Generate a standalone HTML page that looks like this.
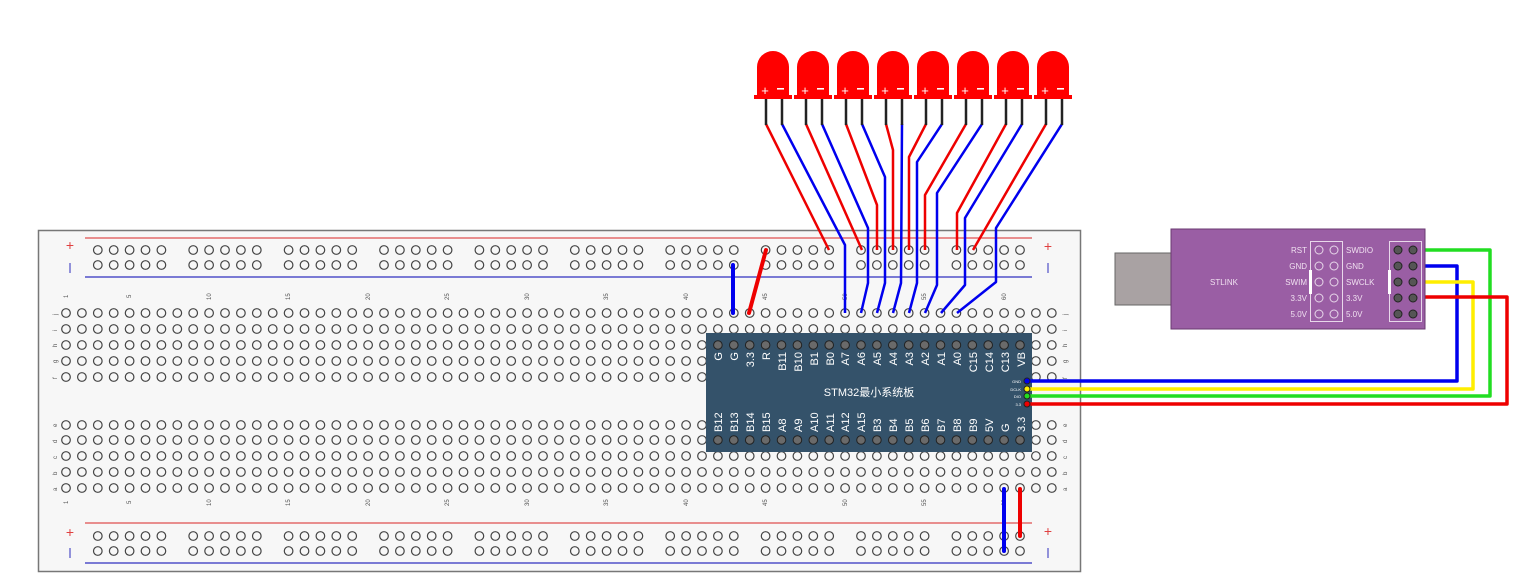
<!DOCTYPE html>
<html><head><meta charset="utf-8"><style>
html,body{margin:0;padding:0;background:#fff;width:1537px;height:588px;overflow:hidden}
svg{display:block;font-family:"Liberation Sans","Noto Sans CJK SC",sans-serif}
</style></head><body>
<svg id="s" width="1537" height="588" viewBox="0 0 1537 588" xmlns="http://www.w3.org/2000/svg">
<rect x="38.5" y="230.5" width="1042" height="341" fill="#f7f7f7" stroke="#777" stroke-width="1.5"/>
<line x1="85" y1="238" x2="1032" y2="238" stroke="#e05050" stroke-width="1.2"/>
<line x1="85" y1="277" x2="1032" y2="277" stroke="#3030c0" stroke-width="1.2"/>
<line x1="85" y1="523" x2="1032" y2="523" stroke="#e05050" stroke-width="1.2"/>
<line x1="85" y1="563" x2="1032" y2="563" stroke="#3030c0" stroke-width="1.2"/>
<g font-size="14" fill="#e04040" text-anchor="middle"><text x="70" y="250">+</text><text x="1048" y="251">+</text><text x="70" y="537">+</text><text x="1048" y="536">+</text></g>
<g stroke="#7070d0" stroke-width="1.5"><line x1="70" y1="263" x2="70" y2="273"/><line x1="1048" y1="263" x2="1048" y2="273"/><line x1="70" y1="548" x2="70" y2="558"/><line x1="1048" y1="548" x2="1048" y2="558"/></g>
<g id="holes" fill="none" stroke="#444" stroke-width="1.2"></g>
<g font-size="6" fill="#555" id="labels">
<text transform="translate(68,298) rotate(-90)">1</text>
<text transform="translate(131,298) rotate(-90)">5</text>
<text transform="translate(211,300) rotate(-90)">10</text>
<text transform="translate(290,300) rotate(-90)">15</text>
<text transform="translate(370,300) rotate(-90)">20</text>
<text transform="translate(449,300) rotate(-90)">25</text>
<text transform="translate(529,300) rotate(-90)">30</text>
<text transform="translate(608,300) rotate(-90)">35</text>
<text transform="translate(688,300) rotate(-90)">40</text>
<text transform="translate(767,300) rotate(-90)">45</text>
<text transform="translate(847,300) rotate(-90)">50</text>
<text transform="translate(926,300) rotate(-90)">55</text>
<text transform="translate(1006,300) rotate(-90)">60</text>
<text transform="translate(68,504) rotate(-90)">1</text>
<text transform="translate(131,504) rotate(-90)">5</text>
<text transform="translate(211,506) rotate(-90)">10</text>
<text transform="translate(290,506) rotate(-90)">15</text>
<text transform="translate(370,506) rotate(-90)">20</text>
<text transform="translate(449,506) rotate(-90)">25</text>
<text transform="translate(529,506) rotate(-90)">30</text>
<text transform="translate(608,506) rotate(-90)">35</text>
<text transform="translate(688,506) rotate(-90)">40</text>
<text transform="translate(767,506) rotate(-90)">45</text>
<text transform="translate(847,506) rotate(-90)">50</text>
<text transform="translate(926,506) rotate(-90)">55</text>
<text transform="translate(1006,506) rotate(-90)">60</text>
<text transform="translate(57,315) rotate(-90)">j</text><text transform="translate(57,331) rotate(-90)">i</text><text transform="translate(57,347) rotate(-90)">h</text><text transform="translate(57,363) rotate(-90)">g</text><text transform="translate(57,379) rotate(-90)">f</text>
<text transform="translate(57,427) rotate(-90)">e</text><text transform="translate(57,443) rotate(-90)">d</text><text transform="translate(57,459) rotate(-90)">c</text><text transform="translate(57,475) rotate(-90)">b</text><text transform="translate(57,491) rotate(-90)">a</text>
<text transform="translate(1067,315) rotate(-90)">j</text><text transform="translate(1067,331) rotate(-90)">i</text><text transform="translate(1067,347) rotate(-90)">h</text><text transform="translate(1067,363) rotate(-90)">g</text><text transform="translate(1067,379) rotate(-90)">f</text>
<text transform="translate(1067,427) rotate(-90)">e</text><text transform="translate(1067,443) rotate(-90)">d</text><text transform="translate(1067,459) rotate(-90)">c</text><text transform="translate(1067,475) rotate(-90)">b</text><text transform="translate(1067,491) rotate(-90)">a</text>
</g>
<!-- STM32 -->
<rect x="706" y="333" width="326" height="119" fill="#34526a"/>
<g id="pins" fill="#6a6a6a" stroke="#222" stroke-width="1"></g>
<g fill="#fff" font-size="11">
<g text-anchor="end">
<text transform="translate(722,352) rotate(-90)">G</text><text transform="translate(738,352) rotate(-90)">G</text><text transform="translate(754,352) rotate(-90)">3.3</text><text transform="translate(770,352) rotate(-90)">R</text><text transform="translate(786,352) rotate(-90)">B11</text><text transform="translate(802,352) rotate(-90)">B10</text><text transform="translate(818,352) rotate(-90)">B1</text><text transform="translate(834,352) rotate(-90)">B0</text><text transform="translate(849,352) rotate(-90)">A7</text><text transform="translate(865,352) rotate(-90)">A6</text><text transform="translate(881,352) rotate(-90)">A5</text><text transform="translate(897,352) rotate(-90)">A4</text><text transform="translate(913,352) rotate(-90)">A3</text><text transform="translate(929,352) rotate(-90)">A2</text><text transform="translate(945,352) rotate(-90)">A1</text><text transform="translate(961,352) rotate(-90)">A0</text><text transform="translate(977,352) rotate(-90)">C15</text><text transform="translate(993,352) rotate(-90)">C14</text><text transform="translate(1009,352) rotate(-90)">C13</text><text transform="translate(1025,352) rotate(-90)">VB</text>
</g>
<g text-anchor="start">
<text transform="translate(722,432) rotate(-90)">B12</text><text transform="translate(738,432) rotate(-90)">B13</text><text transform="translate(754,432) rotate(-90)">B14</text><text transform="translate(770,432) rotate(-90)">B15</text><text transform="translate(786,432) rotate(-90)">A8</text><text transform="translate(802,432) rotate(-90)">A9</text><text transform="translate(818,432) rotate(-90)">A10</text><text transform="translate(834,432) rotate(-90)">A11</text><text transform="translate(849,432) rotate(-90)">A12</text><text transform="translate(865,432) rotate(-90)">A15</text><text transform="translate(881,432) rotate(-90)">B3</text><text transform="translate(897,432) rotate(-90)">B4</text><text transform="translate(913,432) rotate(-90)">B5</text><text transform="translate(929,432) rotate(-90)">B6</text><text transform="translate(945,432) rotate(-90)">B7</text><text transform="translate(961,432) rotate(-90)">B8</text><text transform="translate(977,432) rotate(-90)">B9</text><text transform="translate(993,432) rotate(-90)">5V</text><text transform="translate(1009,432) rotate(-90)">G</text><text transform="translate(1025,432) rotate(-90)">3.3</text>
</g>
<text x="869" y="396" text-anchor="middle" font-size="11">STM32最小系统板</text>
<g font-size="4" text-anchor="end"><text x="1021" y="383">GND</text><text x="1021" y="391">DCLK</text><text x="1021" y="398">DIO</text><text x="1021" y="406">3.3</text></g>
</g>
<!-- SWD wires -->
<g fill="none" stroke-width="3.5" stroke-linejoin="round">
<polyline points="1027,381 1457,381 1457,266 1413,266" stroke="#0000ee"/>
<polyline points="1027,389 1473,389 1473,282 1413,282" stroke="#ffee00"/>
<polyline points="1027,396 1490,396 1490,250 1413,250" stroke="#22dd22"/>
<polyline points="1027,404 1507,404 1507,297 1413,297" stroke="#ee0000"/>
</g>
<g stroke="#222" stroke-width="1"><circle cx="1027" cy="381" r="3" fill="#0000ee"/><circle cx="1027" cy="389" r="3" fill="#ffee00"/><circle cx="1027" cy="396" r="3" fill="#22dd22"/><circle cx="1027" cy="404" r="3" fill="#ee0000"/></g>
<!-- STLINK -->
<rect x="1115" y="253" width="56" height="52" fill="#a9a2a3" stroke="#666"/>
<rect x="1171" y="229" width="254" height="100" fill="#9a5ea4" stroke="#6a3a70"/>
<text x="1224" y="285" fill="#f0e0f0" font-size="8" text-anchor="middle">STLINK</text>
<rect x="1310.5" y="241.5" width="32" height="80" fill="none" stroke="#e8d8ea"/>
<rect x="1389.5" y="241.5" width="32" height="80" fill="none" stroke="#e8d8ea"/>
<rect x="1309" y="270" width="3" height="24" fill="#fff"/>
<rect x="1388" y="270" width="3" height="24" fill="#fff"/>
<g fill="#f0e0f0" font-size="8"><g text-anchor="end"><text x="1307" y="253">RST</text><text x="1307" y="269">GND</text><text x="1307" y="285">SWIM</text><text x="1307" y="301">3.3V</text><text x="1307" y="317">5.0V</text></g>
<text x="1346" y="253">SWDIO</text><text x="1346" y="269">GND</text><text x="1346" y="285">SWCLK</text><text x="1346" y="301">3.3V</text><text x="1346" y="317">5.0V</text></g>
<g fill="none" stroke="#e8d8ea" stroke-width="1"><circle cx="1319" cy="250" r="4"/><circle cx="1334" cy="250" r="4"/><circle cx="1319" cy="266" r="4"/><circle cx="1334" cy="266" r="4"/><circle cx="1319" cy="282" r="4"/><circle cx="1334" cy="282" r="4"/><circle cx="1319" cy="298" r="4"/><circle cx="1334" cy="298" r="4"/><circle cx="1319" cy="314" r="4"/><circle cx="1334" cy="314" r="4"/></g>
<g fill="#555" stroke="#222"><circle cx="1398" cy="250" r="4"/><circle cx="1413" cy="250" r="4"/><circle cx="1398" cy="266" r="4"/><circle cx="1413" cy="266" r="4"/><circle cx="1398" cy="282" r="4"/><circle cx="1413" cy="282" r="4"/><circle cx="1398" cy="298" r="4"/><circle cx="1413" cy="298" r="4"/><circle cx="1398" cy="314" r="4"/><circle cx="1413" cy="314" r="4"/></g>
<!-- LED wires -->
<g fill="none" stroke-width="2.5" stroke-linejoin="round">
<polyline stroke="#ee0000" points="766,124 829,250"/>
<polyline stroke="#0000ee" points="782,124 845,245 845,313"/>
<polyline stroke="#ee0000" points="806,124 862,250"/>
<polyline stroke="#0000ee" points="822,124 868,228 868,283 861,313"/>
<polyline stroke="#ee0000" points="846,124 877,205 877,250"/>
<polyline stroke="#0000ee" points="862,124 885,177 885,283 877,313"/>
<polyline stroke="#ee0000" points="886,124 893,150 893,250"/>
<polyline stroke="#0000ee" points="902,124 901,283 893,313"/>
<polyline stroke="#ee0000" points="926,124 909,157 909,250"/>
<polyline stroke="#0000ee" points="942,124 917,162 917,283 909,313"/>
<polyline stroke="#ee0000" points="966,124 925,195 925,250"/>
<polyline stroke="#0000ee" points="982,124 937,193 937,285 925,313"/>
<polyline stroke="#ee0000" points="1006,124 957,213 957,250"/>
<polyline stroke="#0000ee" points="1022,124 965,218 965,285 941,313"/>
<polyline stroke="#ee0000" points="1046,124 973,250"/>
<polyline stroke="#0000ee" points="1062,124 996,228 996,282 957,313"/>
</g>
<!-- jumpers -->
<g stroke-width="4" stroke-linecap="round">
<line x1="733" y1="265" x2="733" y2="313" stroke="#0000ee"/>
<line x1="766" y1="250" x2="749" y2="313" stroke="#ee0000"/>
<line x1="1004" y1="489" x2="1004" y2="551" stroke="#0000ee"/>
<line x1="1020" y1="489" x2="1020" y2="536" stroke="#ee0000"/>
</g>
<g id="leds"></g>
</svg>
<script>
var NS="http://www.w3.org/2000/svg";
function el(p,t,a){var e=document.createElementNS(NS,t);for(var k in a)e.setAttribute(k,a[k]);p.appendChild(e);return e;}
var H=document.getElementById("holes");
function cx(n){return 66+(n-1)*15.9;}
var rows=[313,329,345,361,377,425,440,456,472,488];
for(var r=0;r<rows.length;r++)for(var c=1;c<=63;c++)el(H,"circle",{cx:cx(c),cy:rows[r],r:4.3});
var rr=[250,265,536,551];
for(var r=0;r<4;r++)for(var g=0;g<10;g++)for(var k=0;k<5;k++)el(H,"circle",{cx:cx(3+g*6+k),cy:rr[r],r:4.3});
var P=document.getElementById("pins");
for(var c=42;c<=61;c++){el(P,"circle",{cx:cx(c),cy:345,r:4.3});el(P,"circle",{cx:cx(c),cy:440,r:4.3});}
var L=document.getElementById("leds");
for(var i=0;i<8;i++){var x=773+40*i;
el(L,"line",{x1:x-7,y1:98,x2:x-7,y2:125,stroke:"#222","stroke-width":2.5});
el(L,"line",{x1:x+9,y1:98,x2:x+9,y2:125,stroke:"#222","stroke-width":2.5});
el(L,"path",{d:"M"+(x-16)+",95 L"+(x-16)+",67 A16,16 0 0 1 "+(x+16)+",67 L"+(x+16)+",95 Z",fill:"#ff0000"});
el(L,"rect",{x:x-19,y:95,width:38,height:4,fill:"#ff0000"});
var t=el(L,"text",{x:x-8,y:95,fill:"#fff","font-size":"13","text-anchor":"middle"});t.textContent="+";
var u=el(L,"rect",{x:x+4,y:88,width:7,height:1.6,fill:"#fff"});
}
</script>
</body></html>
